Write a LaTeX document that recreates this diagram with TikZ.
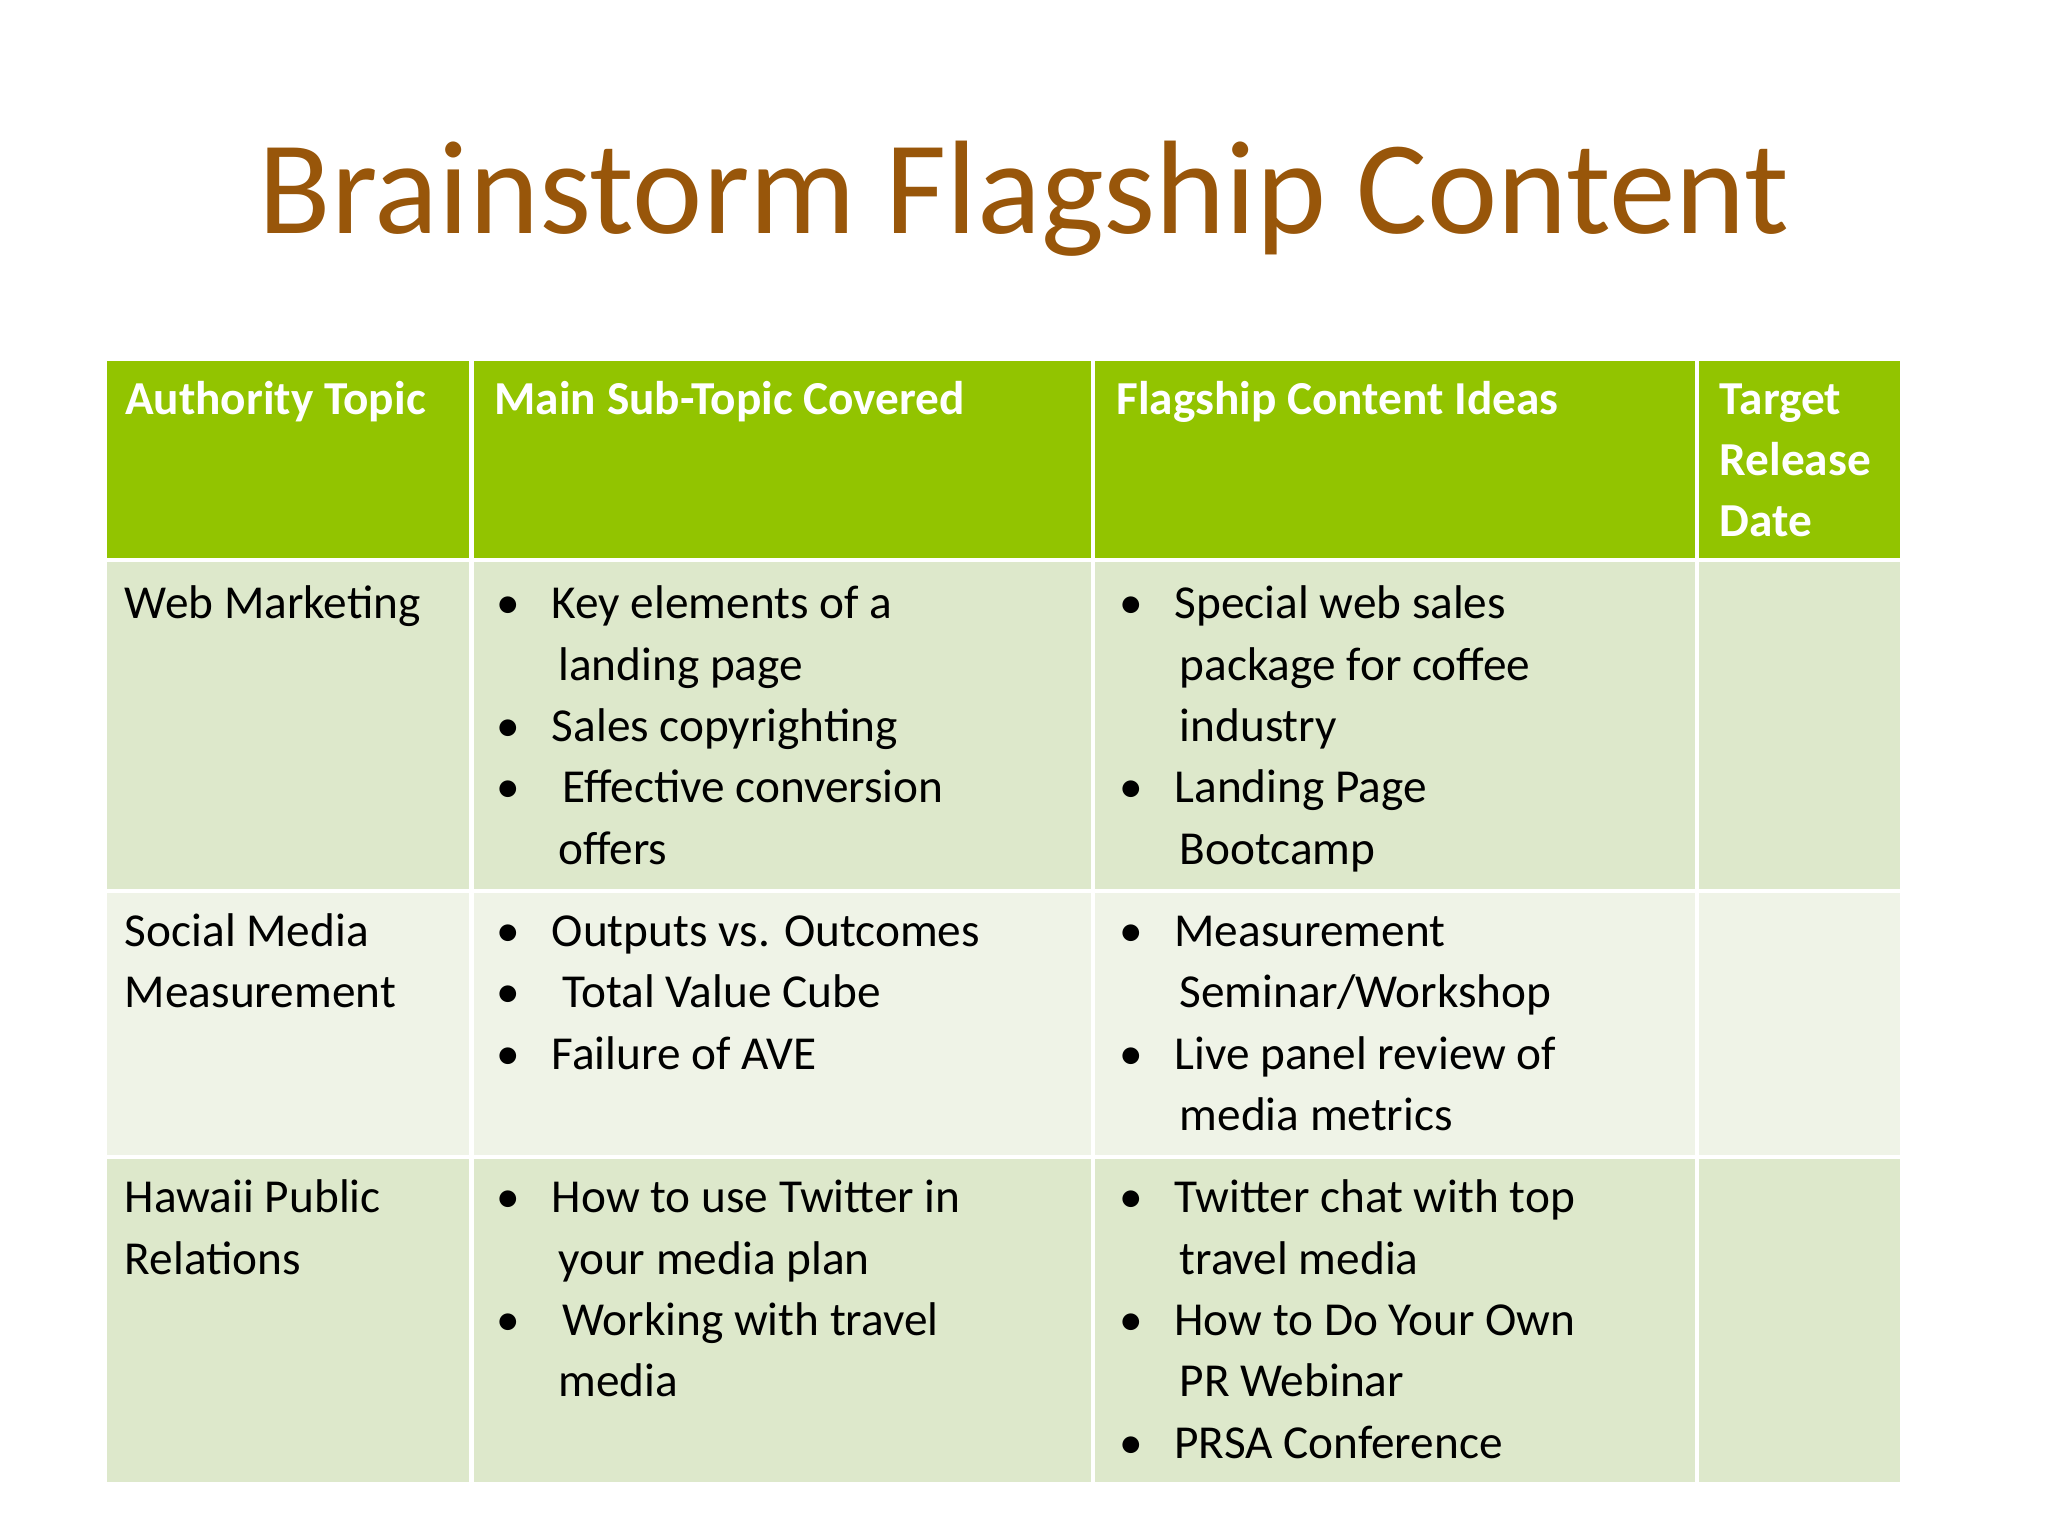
\documentclass[tikz,border=0pt]{standalone}
\usepackage{fontspec}
\setmainfont{Carlito}
\definecolor{hdr}{RGB}{146,196,0}
\definecolor{rowa}{RGB}{221,232,203}
\definecolor{rowb}{RGB}{239,243,231}
\definecolor{ttl}{RGB}{152,86,10}
\newcommand{\tl}[4]{\node[txt] (#1) at (#2*0.01,-#3*0.01-0.11) {#4};}
\newcommand{\bl}[4]{\node[txt] (#1b) at (#2*0.01,-#3*0.01-0.11) {•};\node[txt] (#1) at (#2*0.01+0.42,-#3*0.01-0.11) {#4};}
\begin{document}
\begin{tikzpicture}[
  txt/.style={anchor=base west,inner sep=0pt,font=\fontsize{10.3pt}{12pt}\selectfont},
  hd/.style={txt,text=white,font=\fontsize{10.3pt}{12pt}\selectfont\bfseries},
  cell/.style={draw=white,line width=0.9pt}]
\useasboundingbox (0,0) rectangle (15.68,-11.76);
\node[text=ttl,font=\fontsize{29pt}{34pt}\selectfont,anchor=base] (title) at (7.84,-1.79) {Brainstorm Flagship Content};
% cells
\foreach \x/\X in {0.80/3.61,3.61/8.37,8.37/12.99,12.99/14.56}{
  \fill[hdr,cell] (\x,-2.75) rectangle (\X,-4.29);
  \fill[rowa,cell] (\x,-4.29) rectangle (\X,-6.82);
  \fill[rowb,cell] (\x,-6.82) rectangle (\X,-8.86);
  \fill[rowa,cell] (\x,-8.86) rectangle (\X,-11.36);
}
% header
\node[hd] (h1) at (0.95,-3.17) {Authority Topic};
\node[hd] (h2) at (3.78,-3.17) {Main Sub-Topic Covered};
\node[hd] (h3) at (8.54,-3.17) {Flagship Content Ideas};
\node[hd] (h4a) at (13.16,-3.17) {Target};
\node[hd] (h4b) at (13.16,-3.64) {Release};
\node[hd] (h4c) at (13.16,-4.11) {Date};
% row 1
\tl{a1}{95}{463}{Web Marketing}
\bl{b1}{380}{463}{Key elements of a}
\tl{b2}{427}{510}{landing page}
\bl{b3}{380}{557}{Sales copyrighting}
\bl{b4}{380}{604}{\ Effective conversion}
\tl{b5}{427}{651}{offers}
\bl{c1}{857}{463}{Special web sales}
\tl{c2}{903}{510}{package for coffee}
\tl{c3}{903}{557}{industry}
\bl{c4}{857}{604}{Landing Page}
\tl{c5}{903}{651}{Bootcamp}
% row 2
\tl{a2}{95}{714}{Social Media}
\tl{a3}{95}{761}{Measurement}
\bl{d1}{380}{714}{Outputs vs. Outcomes}
\bl{d2}{380}{761}{\ Total Value Cube}
\bl{d3}{380}{808}{Failure of AVE}
\bl{e1}{857}{714}{Measurement}
\tl{e2}{903}{761}{Seminar/Workshop}
\bl{e3}{857}{808}{Live panel review of}
\tl{e4}{903}{855}{media metrics}
% row 3
\tl{a4}{95}{918}{Hawaii Public}
\tl{a5}{95}{965}{Relations}
\bl{f1}{380}{918}{How to use Twitter in}
\tl{f2}{427}{965}{your media plan}
\bl{f3}{380}{1012}{\ Working with travel}
\tl{f4}{427}{1059}{media}
\bl{g1}{857}{918}{Twitter chat with top}
\tl{g2}{903}{965}{travel media}
\bl{g3}{857}{1012}{How to Do Your Own}
\tl{g4}{903}{1059}{PR Webinar}
\bl{g5}{857}{1106}{PRSA Conference}
\end{tikzpicture}
\end{document}
